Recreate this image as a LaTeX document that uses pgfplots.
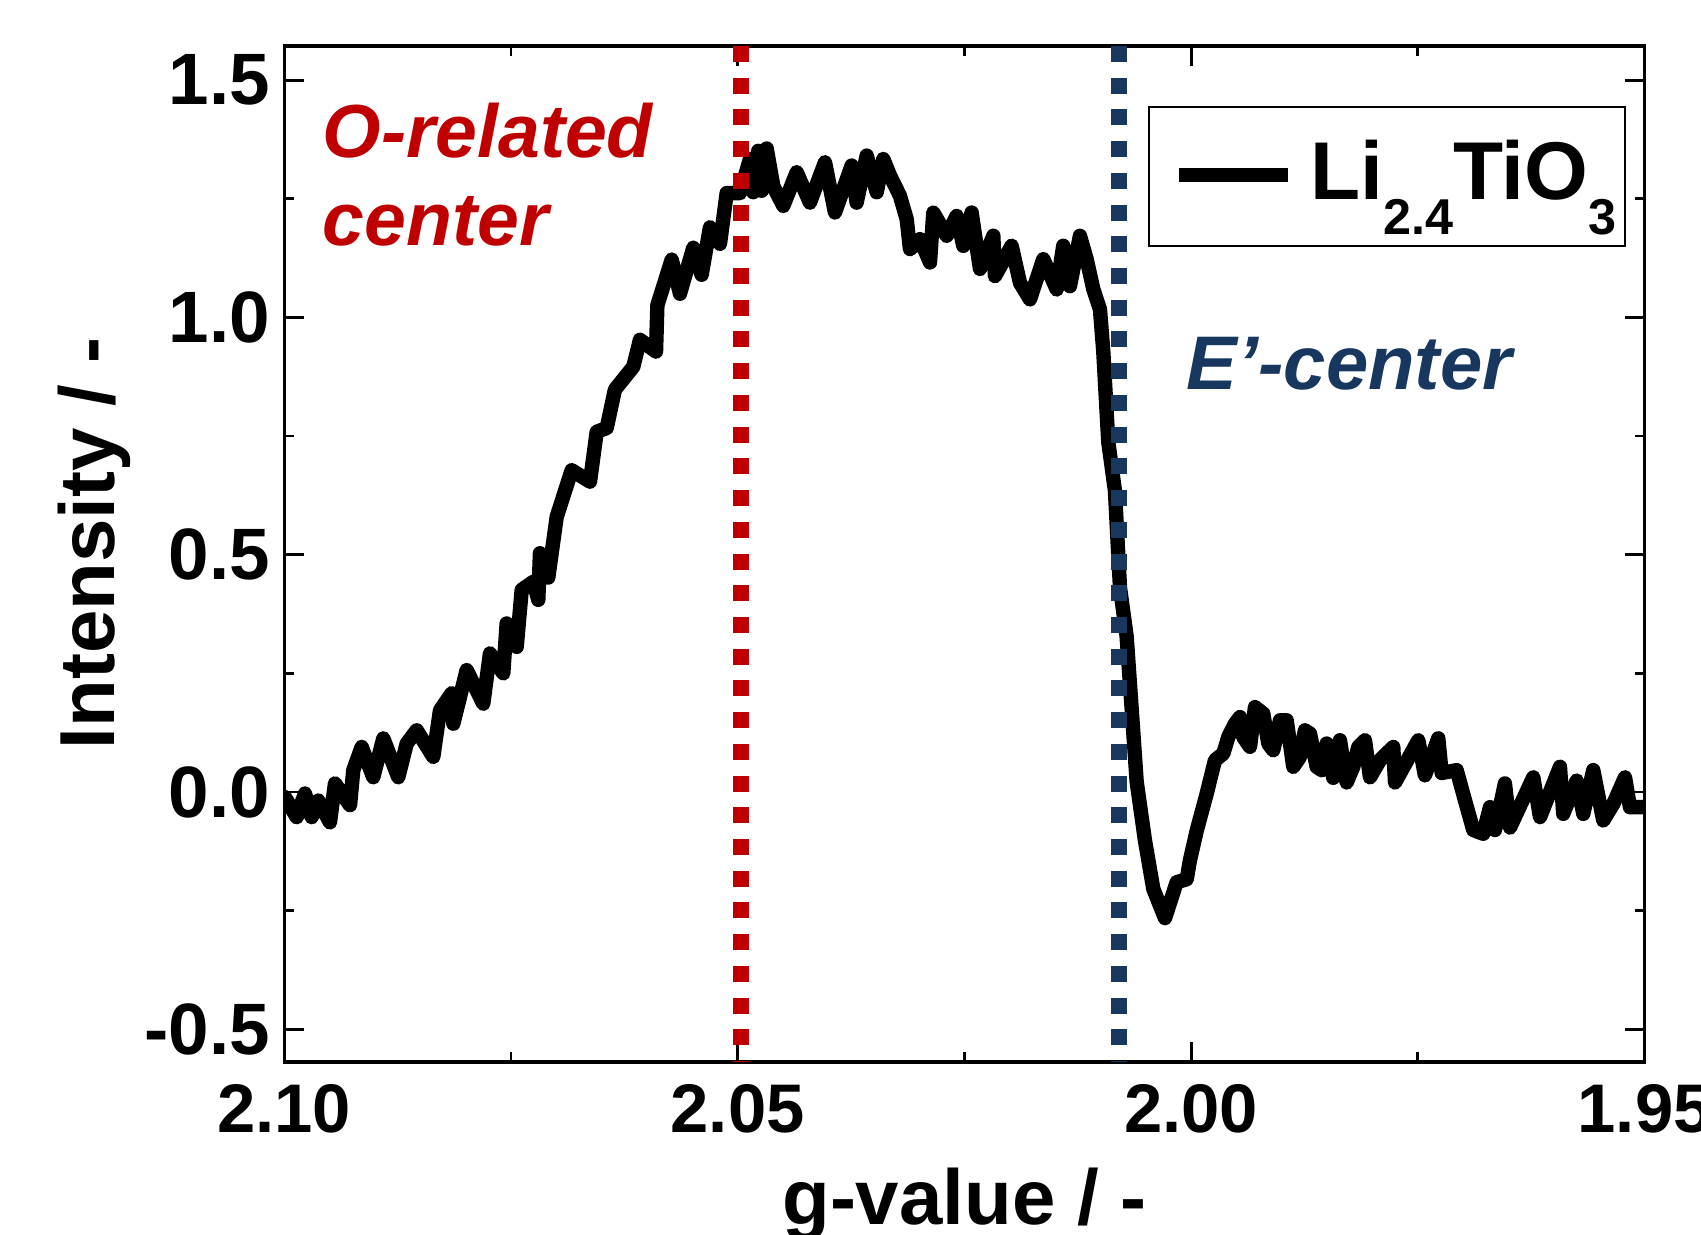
\documentclass[border=0pt]{standalone}
\usepackage{fontspec}
\setmainfont{Liberation Sans}
\usepackage{pgfplots}
\pgfplotsset{compat=1.18}
\definecolor{ored}{RGB}{192,0,0}
\definecolor{eblue}{RGB}{23,55,94}
\begin{document}
\begin{tikzpicture}
\begin{axis}[
  name=ax,
  width=340.1pt, height=254pt, scale only axis,
  x dir=reverse,
  xmin=1.95, xmax=2.10, ymin=-0.569, ymax=1.572,
  xtick={1.95,2.00,2.05,2.10},
  xticklabels={1.95,2.00,2.05,2.10},
  minor xtick={1.975,2.025,2.075},
  ytick={-0.5,0,0.5,1,1.5},
  yticklabels={-0.5,0.0,0.5,1.0,1.5},
  minor ytick={-0.25,0.25,0.75,1.25},
  tick align=inside, tick pos=both,
  major tick length=5pt, minor tick length=2.5pt,
  every tick/.style={black, line width=0.7pt},
  axis line style={line width=0.8pt},
  xticklabel style={font=\fontsize{17.2}{20}\selectfont\bfseries, yshift=-2.1pt},
  yticklabel style={font=\fontsize{18.2}{21}\selectfont\bfseries},
  xlabel={g-value / -},
  ylabel={Intensity / -},
  every axis x label/.style={at={(axis description cs:0.5,0)}, anchor=base, yshift=-40.5pt, font=\fontsize{19.5}{23}\selectfont\bfseries},
  every axis y label/.style={at={([xshift=-42.5pt,yshift=2.7pt]axis description cs:0,0.5)}, rotate=90, anchor=base, font=\fontsize{19.5}{23}\selectfont\bfseries},
  legend style={at={(axis description cs:0.635,0.9407)}, anchor=north west, draw=black, line width=0.5pt,
    inner xsep=5.65pt, inner ysep=2.9pt, nodes={inner sep=0pt, text depth=0pt},
    font=\fontsize{20.5}{24}\selectfont\bfseries,
    /tikz/every odd column/.append style={column sep=3.8pt}},
  legend image code/.code={\draw[line width=3.6pt, line cap=butt] (0pt,0.35pt) -- (27.3pt,0.35pt);},
]
\addplot[black, line width=3.6pt, line join=round, line cap=round] table {
x y
2.09991 -0.011
2.09862 -0.053
2.09771 -0.003
2.09697 -0.053
2.09624 -0.018
2.09495 -0.064
2.09440 0.018
2.09274 -0.028
2.09238 0.046
2.09145 0.095
2.09018 0.031
2.08907 0.113
2.08742 0.031
2.08649 0.102
2.08539 0.130
2.08356 0.074
2.08282 0.172
2.08153 0.208
2.08135 0.144
2.07988 0.257
2.07805 0.186
2.07731 0.292
2.07584 0.250
2.07547 0.355
2.07436 0.306
2.07381 0.426
2.07253 0.443
2.07198 0.405
2.07180 0.503
2.07088 0.452
2.06995 0.580
2.06830 0.678
2.06628 0.654
2.06554 0.759
2.06444 0.767
2.06353 0.848
2.06151 0.896
2.06077 0.953
2.05900 0.928
2.05885 1.026
2.05727 1.122
2.05636 1.050
2.05489 1.147
2.05397 1.090
2.05305 1.190
2.05195 1.155
2.05121 1.262
2.04974 1.262
2.04864 1.334
2.04828 1.264
2.04773 1.351
2.04735 1.267
2.04680 1.356
2.04607 1.277
2.04497 1.235
2.04349 1.306
2.04203 1.242
2.04037 1.327
2.03927 1.221
2.03743 1.320
2.03688 1.242
2.03577 1.341
2.03467 1.264
2.03394 1.334
2.03320 1.299
2.03210 1.256
2.03136 1.207
2.03100 1.144
2.02990 1.165
2.02879 1.116
2.02843 1.221
2.02695 1.172
2.02585 1.214
2.02512 1.151
2.02420 1.221
2.02328 1.102
2.02181 1.172
2.02163 1.087
2.01979 1.151
2.01887 1.073
2.01777 1.038
2.01630 1.123
2.01482 1.059
2.01410 1.151
2.01336 1.066
2.01226 1.172
2.01152 1.123
2.01079 1.060
2.01005 1.017
2.00969 0.930
2.00913 0.737
2.00840 0.635
2.00784 0.430
2.00711 0.328
2.00655 0.174
2.00600 0.021
2.00509 -0.102
2.00417 -0.204
2.00288 -0.266
2.00159 -0.190
2.00049 -0.184
2.00013 -0.144
1.99939 -0.082
1.99829 -0.004
1.99737 0.067
1.99645 0.081
1.99590 0.116
1.99572 0.123
1.99516 0.144
1.99461 0.158
1.99425 0.116
1.99351 0.095
1.99296 0.179
1.99204 0.165
1.99149 0.102
1.99094 0.088
1.99020 0.151
1.98946 0.151
1.98874 0.053
1.98800 0.074
1.98745 0.130
1.98689 0.123
1.98616 0.053
1.98560 0.046
1.98505 0.102
1.98433 0.030
1.98359 0.109
1.98285 0.020
1.98212 0.053
1.98157 0.095
1.98083 0.109
1.98028 0.031
1.97918 0.067
1.97771 0.095
1.97752 0.020
1.97495 0.109
1.97422 0.035
1.97275 0.113
1.97237 0.040
1.97072 0.046
1.96980 -0.018
1.96889 -0.080
1.96779 -0.088
1.96705 -0.032
1.96650 -0.080
1.96540 0.018
1.96484 -0.075
1.96227 0.031
1.96153 -0.053
1.95933 0.053
1.95897 -0.046
1.95749 0.024
1.95676 -0.046
1.95566 0.046
1.95456 -0.060
1.95345 -0.025
1.95216 0.031
1.95161 -0.032
1.94996 -0.032
};
\addlegendentry{\raisebox{8.6pt}{\rule{0pt}{20.2pt}Li\raisebox{-8.6pt}{\fontsize{12.6}{12.6}\selectfont 2.4}TiO\raisebox{-8.6pt}{\fontsize{12.6}{12.6}\selectfont 3}}\kern-3.65pt}
\addplot[ored, line width=4pt, line cap=butt, dash pattern=on 4pt off 3.93pt, forget plot] coordinates {(2.0496,1.572) (2.0496,-0.569)};
\addplot[eblue, line width=4pt, line cap=butt, dash pattern=on 4pt off 3.93pt, forget plot] coordinates {(2.00796,1.572) (2.00796,-0.569)};
\node[anchor=base west, text=ored, font=\fontsize{18.8}{23}\selectfont\bfseries\itshape, inner sep=0pt] at (axis description cs:0.0278,0.8903) {O-related};
\node[anchor=base west, text=ored, font=\fontsize{18.8}{23}\selectfont\bfseries\itshape, inner sep=0pt] at (axis description cs:0.0278,0.8036) {center};
\node[anchor=base west, text=eblue, font=\fontsize{19}{23}\selectfont\bfseries\itshape, inner sep=0pt] at (axis description cs:0.6629,0.6618) {E’-center};
\end{axis}
\pgfresetboundingbox
\useasboundingbox ([shift={(-71.05pt,-43pt)}]ax.south west) rectangle ([shift={(354.2pt,265.5pt)}]ax.south west);
\end{tikzpicture}
\end{document}
